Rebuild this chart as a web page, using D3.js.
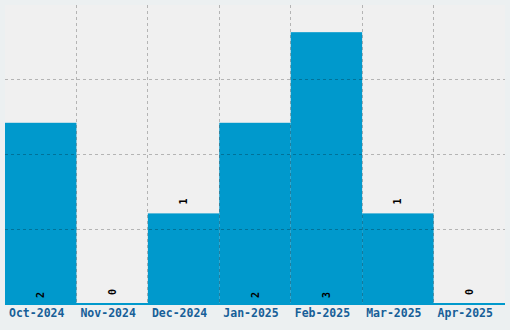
<!DOCTYPE html>
<html lang="en">
<head>
    <meta charset="UTF-8">
    <title>Monthly counts</title>
    <script src="https://d3js.org/d3.v7.min.js"></script>
    <style>
        body { margin: 0; background: #ecf0f1; }
        .tick-label {
            font-family: "DejaVu Sans Mono", monospace;
            font-weight: bold;
            font-size: 11.5px;
            fill: #175f98;
        }
        .value-label {
            font-family: "DejaVu Sans Mono", monospace;
            font-weight: bold;
            font-size: 10px;
            fill: #000;
        }
    </style>
</head>
<body>
    <svg width="510" height="330"></svg>

    <script>
        // chart data
        const months = ["Oct-2024", "Nov-2024", "Dec-2024", "Jan-2025", "Feb-2025", "Mar-2025", "Apr-2025"];
        const counts = [2, 0, 1, 2, 3, 1, 0];

        const svg = d3.select("svg");
        const margin = { top: 5, right: 5, bottom: 26, left: 5 };
        const width = 510 - margin.left - margin.right,
              height = 330 - margin.top - margin.bottom;

        const g = svg.append("g")
            .attr("transform", `translate(${margin.left},${margin.top})`);

        const x = d3.scaleBand()
            .domain(months)
            .range([0, width])
            .padding(0);

        const y = d3.scaleLinear()
            .domain([0, d3.max(counts) * 1.1])
            .range([height, 0]);

        // plot background
        g.append("rect")
            .attr("width", width)
            .attr("height", height)
            .attr("fill", "#f0f0f0");

        // bars
        g.selectAll(".bar")
            .data(counts)
            .enter().append("rect")
            .attr("class", "bar")
            .attr("x", (d, i) => x(months[i]))
            .attr("width", x.bandwidth())
            .attr("y", d => y(d))
            .attr("height", d => height - y(d))
            .attr("fill", "#0099cc");

        // grid on top of bars
        const grid = g.append("g").attr("class", "grid");
        months.slice(1).forEach(m => {
            grid.append("line")
                .attr("x1", x(m)).attr("x2", x(m))
                .attr("y1", 0).attr("y2", height);
        });
        [1, 2, 3].forEach(k => {
            const gy = height * k / 4;
            grid.append("line")
                .attr("x1", 0).attr("x2", width)
                .attr("y1", gy).attr("y2", gy);
        });
        grid.selectAll("line")
            .attr("stroke", "rgba(0,0,0,0.25)")
            .attr("stroke-width", 1)
            .attr("stroke-dasharray", "3,3")
            .attr("shape-rendering", "crispEdges");

        // x axis line
        g.append("line")
            .attr("x1", 0).attr("x2", width)
            .attr("y1", height).attr("y2", height)
            .attr("stroke", "#0099cc")
            .attr("stroke-width", 2);

        // tick labels
        g.selectAll(".tick-label")
            .data(months)
            .enter().append("text")
            .attr("class", "tick-label")
            .attr("x", d => x(d) + x.bandwidth() / 2 - 4)
            .attr("y", height + 13)
            .attr("text-anchor", "middle")
            .text(d => d);

        // value labels, rotated; inside the bar when it is tall enough
        g.selectAll(".value-label")
            .data(counts)
            .enter().append("text")
            .attr("class", "value-label")
            .attr("transform", (d, i) => {
                const cx = x(months[i]) + x.bandwidth() / 2;
                const cy = d >= 2 ? height - 9 : y(d) - 12;
                return `translate(${cx},${cy}) rotate(-90)`;
            })
            .attr("text-anchor", "middle")
            .attr("dy", "0.35em")
            .text(d => d);
    </script>
</body>
</html>
